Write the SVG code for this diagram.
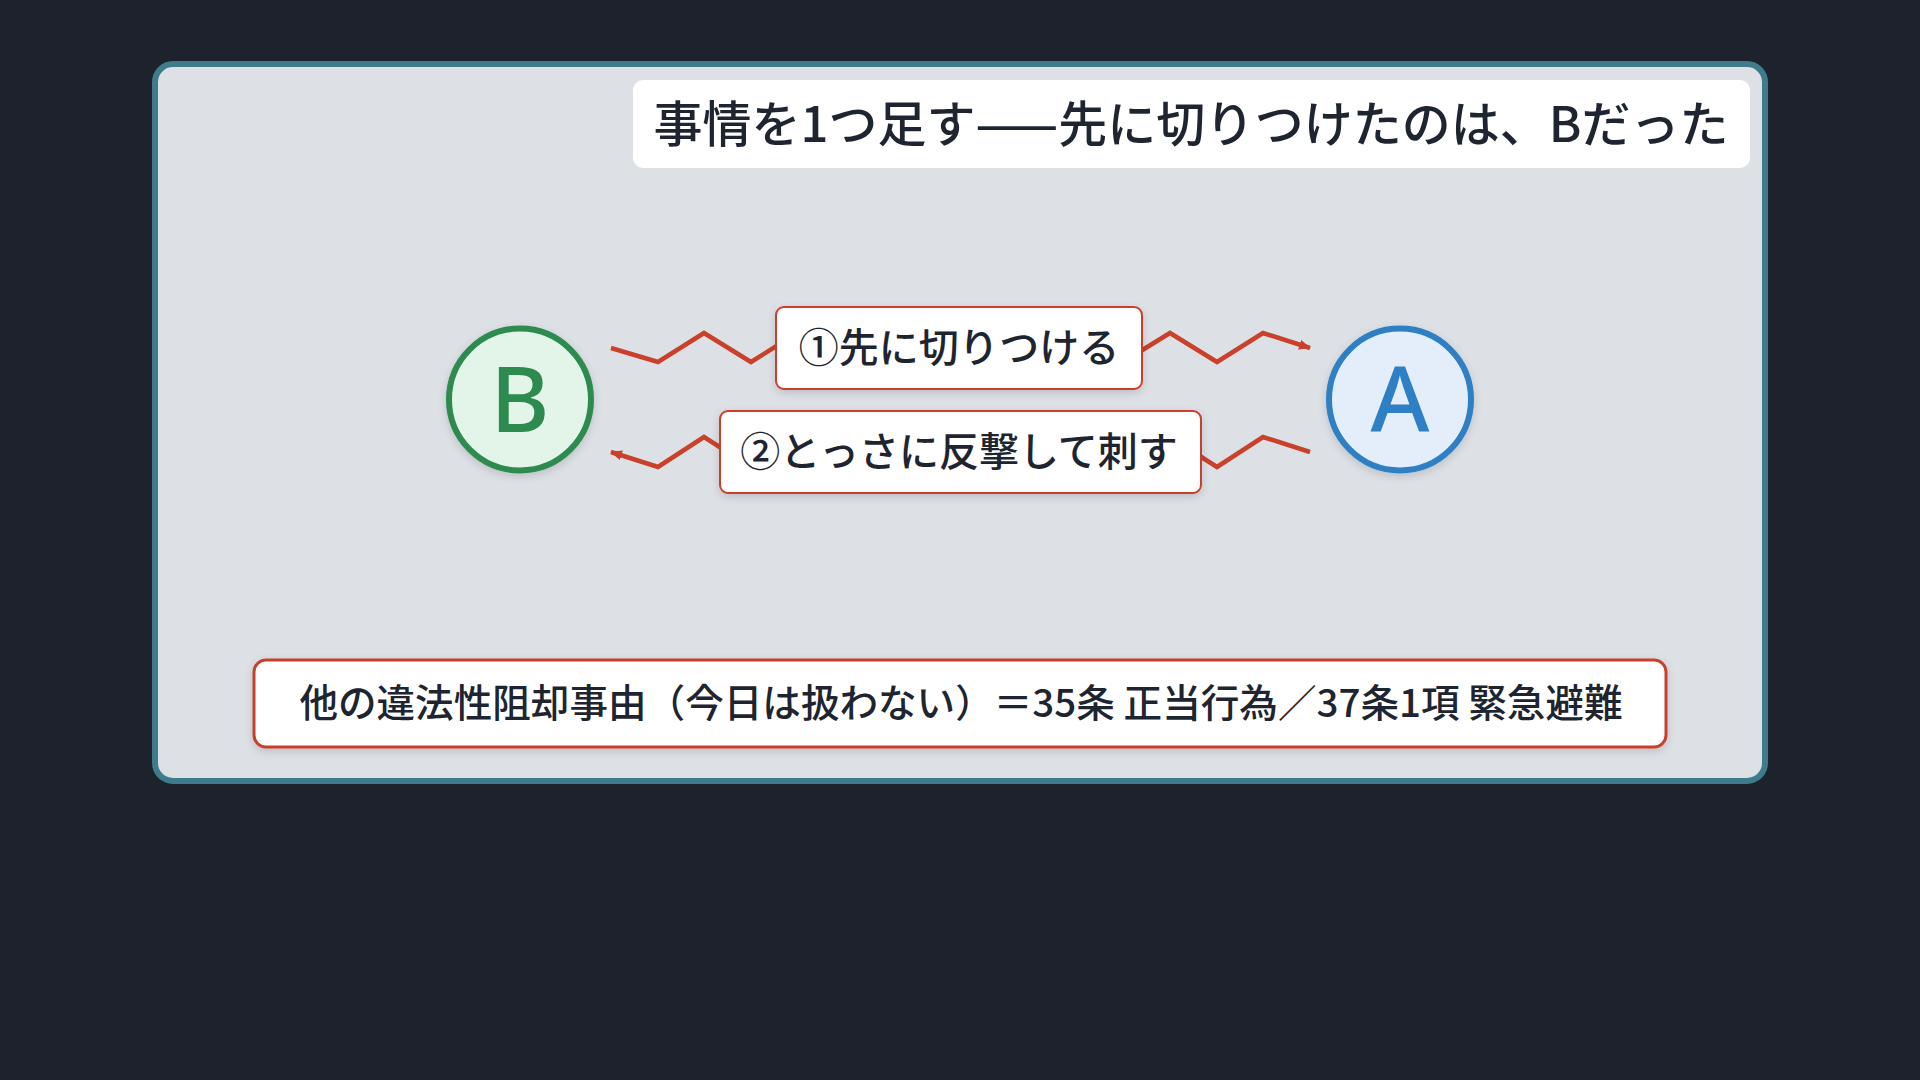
<svg xmlns="http://www.w3.org/2000/svg" width="1920" height="1080" viewBox="0 0 1920 1080">
<defs>
<style>
.jp{font-family:"Noto Sans CJK JP","Noto Sans",sans-serif;font-weight:500;fill:#1e2530;text-anchor:middle}
.box{fill:#ffffff;stroke:#c9412b;stroke-width:2}
.zig{fill:none;stroke:#c9412b;stroke-width:4.5;stroke-linejoin:miter}
.letter{font-family:"Noto Sans","DejaVu Sans",sans-serif;font-weight:500;font-size:90px;text-anchor:middle}
</style>
<filter id="sh" x="-20%" y="-20%" width="140%" height="150%">
<feDropShadow dx="0" dy="3" stdDeviation="4" flood-color="#000000" flood-opacity="0.15"/>
</filter>
<marker id="arr" markerUnits="userSpaceOnUse" markerWidth="12" markerHeight="10" refX="11" refY="5" orient="auto">
<path d="M0,0 L12,5 L0,10 z" fill="#c9412b"/>
</marker>
</defs>
<rect x="0" y="0" width="1920" height="1080" fill="#1d222c"/>
<g id="panel">
<rect x="155" y="64" width="1610" height="717" rx="18" fill="#dde0e5" stroke="#3e7b8b" stroke-width="6"/>
</g>
<g id="title">
<rect x="633" y="80" width="1117" height="88" rx="10" fill="#ffffff"/>
<text class="jp" x="1191" y="142" font-size="49">事情を1つ足す——先に切りつけたのは、Bだった</text>
</g>
<g id="connectors">
<polyline class="zig" marker-end="url(#arr)" points="611,348 658,362 704,333 751,362 797,333 844,362 890,333 937,362 983,333 1030,362 1077,333 1123,362 1170,333 1217,362 1263,333 1310,348"/>
<polyline class="zig" marker-end="url(#arr)" points="1310,452 1263,437 1217,467 1170,437 1124,467 1077,437 1030,467 984,437 937,467 891,437 844,467 797,437 751,467 704,437 658,467 611,452"/>
</g>
<g id="label1">
<rect class="box" x="776" y="307" width="366" height="82" rx="8" filter="url(#sh)"/>
<text class="jp" x="959" y="362" font-size="40">①先に切りつける</text>
</g>
<g id="label2">
<rect class="box" x="720" y="411" width="481" height="82" rx="8" filter="url(#sh)"/>
<text class="jp" x="959" y="466" font-size="40">②とっさに反撃して刺す</text>
</g>
<g id="nodeB">
<circle cx="520" cy="399.5" r="71" fill="#e3f5e8" stroke="#2e8b50" stroke-width="6" filter="url(#sh)"/>
<text class="letter" x="520" y="432" fill="#2e8b50">B</text>
</g>
<g id="nodeA">
<circle cx="1400" cy="399.5" r="71" fill="#e3eefa" stroke="#2f7fc4" stroke-width="6" filter="url(#sh)"/>
<text class="letter" x="1400" y="432" fill="#2f7fc4">A</text>
</g>
<g id="note">
<rect x="254" y="660" width="1412" height="87" rx="12" fill="#ffffff" stroke="#c9412b" stroke-width="3" filter="url(#sh)"/>
<text class="jp" x="961" y="717" font-size="38.6">他の違法性阻却事由（今日は扱わない）＝35条 正当行為／37条1項 緊急避難</text>
</g>
</svg>
